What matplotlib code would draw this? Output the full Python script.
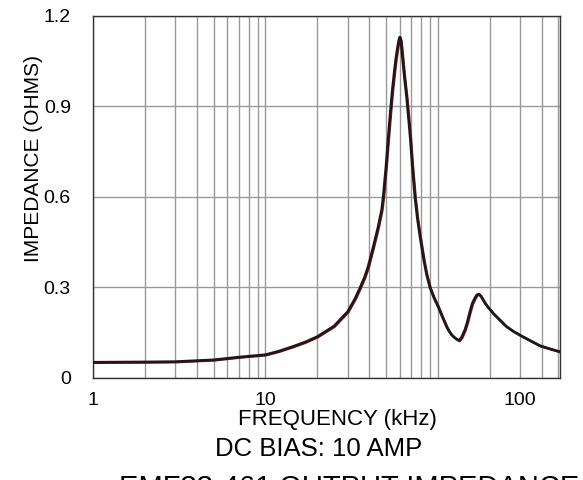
import matplotlib
matplotlib.use("Agg")
import matplotlib.pyplot as plt
import matplotlib.transforms as mtransforms
from matplotlib.ticker import LogLocator, NullFormatter

plt.rcParams['font.family'] = ['Liberation Sans', 'DejaVu Sans']

# impedance curve (kHz, ohms)
freq_khz = [1.0, 2.0, 3.0, 5.0, 7.0, 10.0, 12.0, 14.4, 17.0, 20.0, 25.0,
            30.0, 33.0, 35.3, 37.5, 39.4, 42.0, 45.0, 47.2, 48.2, 50.0,
            51.5, 53.0, 54.3, 56.0, 57.1, 58.5, 59.5, 60.2, 61.0, 62.4,
            64.0, 65.9, 67.5, 69.3, 71.0, 73.6, 76.0, 78.7, 82.9, 86.0,
            89.9, 95.0, 100.4, 106.0, 112.3, 116.0, 120.5, 126.0, 132.4,
            137.0, 143.5, 148.0, 153.4, 158.0, 163.8, 168.0, 172.9, 177.0,
            182.4, 188.0, 195.0, 209.3, 225.0, 250.0, 275.0, 305.6, 340.0,
            390.0, 450.0, 510.0]
impedance = [0.052, 0.053, 0.054, 0.060, 0.069, 0.077, 0.089, 0.104, 0.119,
             0.137, 0.172, 0.220, 0.262, 0.298, 0.333, 0.369, 0.430, 0.500,
             0.557, 0.600, 0.700, 0.794, 0.880, 0.949, 1.020, 1.060, 1.100,
             1.122, 1.130, 1.118, 1.060, 0.995, 0.930, 0.865, 0.790, 0.705,
             0.600, 0.530, 0.470, 0.390, 0.343, 0.300, 0.265, 0.236, 0.203,
             0.170, 0.155, 0.142, 0.132, 0.124, 0.134, 0.160, 0.185, 0.220,
             0.246, 0.265, 0.275, 0.278, 0.272, 0.260, 0.247, 0.235, 0.214,
             0.196, 0.170, 0.154, 0.139, 0.125, 0.107, 0.096, 0.087]

y_ticks = [0, 0.3, 0.6, 0.9, 1.2]
y_tick_labels = ['0', '0.3', '0.6', '0.9', '1.2']
# the reference prints "100" under the 300 kHz grid line
x_ticks = [1, 10, 300]
x_tick_labels = ['1', '10', '100']

fig = plt.figure(figsize=(5.83, 4.80), dpi=100)
ax = fig.add_axes([0.1595, 0.2125, 0.801, 0.7542])

# red trace peeking out from under the black one
red_offset = mtransforms.ScaledTranslation(0.8 / 100, -0.6 / 100, fig.dpi_scale_trans)
ax.plot(freq_khz, impedance, color='#b01020', linewidth=1.6,
        transform=ax.transData + red_offset, zorder=3)
ax.plot(freq_khz, impedance, color='#1a1a1a', linewidth=2.0, zorder=4,
        solid_joinstyle='round')

ax.set_xscale('log')
ax.set_xlim(1, 510)
ax.set_ylim(0, 1.2)

ax.xaxis.set_minor_locator(LogLocator(base=10, subs=range(1, 10), numticks=20))
ax.xaxis.set_minor_formatter(NullFormatter())
ax.set_xticks(x_ticks)
ax.set_xticklabels(x_tick_labels)
ax.set_yticks(y_ticks)
ax.set_yticklabels(y_tick_labels)

ax.grid(True, which='both', axis='x', color='#999999', linewidth=1.0)
ax.grid(True, which='major', axis='y', color='#999999', linewidth=1.0)
ax.set_axisbelow(True)

ax.tick_params(axis='both', which='both', length=0, labelsize=14)
ax.tick_params(axis='x', pad=10)
ax.tick_params(axis='y', pad=16)

for spine in ax.spines.values():
    spine.set_color('#333333')
    spine.set_linewidth(1.0)

ax.set_ylabel('IMPEDANCE (OHMS)', fontsize=15)
ax.yaxis.set_label_coords(-0.106, 0.605)

fig.text(337 / 583, 1 - 420 / 480, 'FREQUENCY (kHz)', fontsize=16,
         ha='center', va='center')
fig.text(319 / 583, 1 - 449 / 480, 'DC BIAS: 10 AMP', fontsize=18.5,
         ha='center', va='center')
# only the top of this line is inside the picture, as in the reference
fig.text(349 / 583, 1 - 496 / 480, 'EMF33-461 OUTPUT IMPEDANCE', fontsize=21,
         ha='center', va='baseline')

fig.savefig('out.png', dpi=100)
